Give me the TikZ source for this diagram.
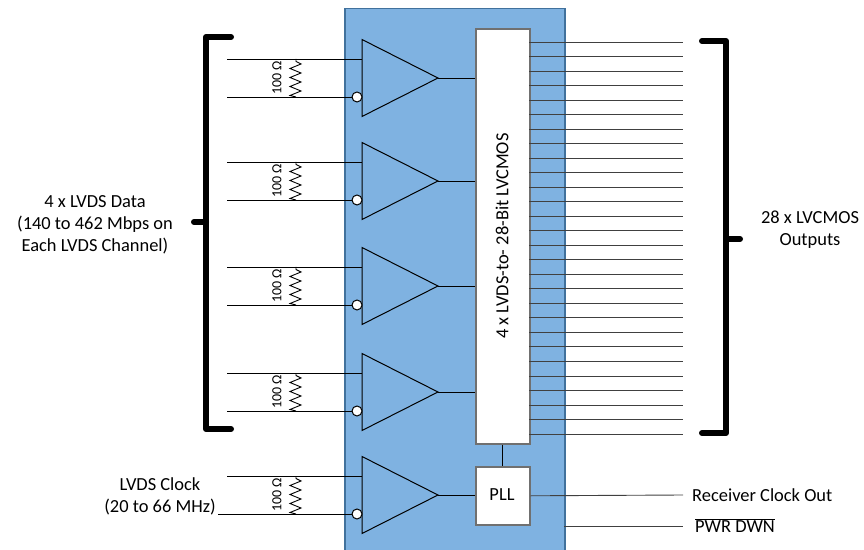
\documentclass[tikz,border=0pt]{standalone}
\usepackage{fontspec}
\setmainfont{Carlito}
\usetikzlibrary{calc}
\definecolor{blk}{HTML}{7FB2E1}
\definecolor{blkedge}{HTML}{41719C}
\definecolor{boxedge}{HTML}{707070}
\tikzset{
  wire/.style={line width=0.9bp, black},
  outwire/.style={line width=0.9bp, black!75},
  chip/.style={draw=blkedge, fill=blk, line width=1.5bp, inner sep=0, minimum width=220bp, minimum height=545bp},
  wbox/.style={draw=boxedge, fill=white, line width=1.6bp, inner sep=0},
  amp/.style={draw=black, fill=blk, line width=1bp, line join=miter},
  bubble/.style={draw=black, fill=white, line width=1bp},
  brace/.style={line width=6bp, line cap=round, line join=round},
  lbl/.style={font=\fontsize{18.5}{22}\selectfont, inner sep=0, align=center},
  rlbl/.style={font=\fontsize{14}{16}\selectfont, inner sep=0, rotate=90},
  res/.style={line width=0.9bp, black, line join=miter}
}
\begin{document}
\begin{tikzpicture}[x=1bp,y=-1bp]
\useasboundingbox (0,0) rectangle (864,550);
% chip body
\node[chip, anchor=north west] (chip) at (344,8) {};
% deserializer and PLL
\node[wbox, anchor=north west, minimum width=54bp, minimum height=415bp] (ser) at (475,28) {};
\node[lbl, rotate=90] (sertxt) at (502,236) {4 x LVDS-to- 28-Bit LVCMOS};
\node[wbox, anchor=north west, minimum width=54bp, minimum height=58bp] (pll) at (475,466) {};
\node[lbl] (plltxt) at (502,495) {PLL};
\draw[wire] (ser.south) -- (pll.north);
% buffers
\foreach \a [count=\i] in {78,181,286,392,495}{
  \coordinate (t\i) at (362,\a-38.5);
  \coordinate (b\i) at (362,\a+38.5);
  \coordinate (o\i) at (438,\a);
  \filldraw[amp] (t\i) -- (o\i) -- (b\i) -- cycle;
  \coordinate (ip\i) at (362,\a-19);
  \node[bubble, circle, minimum size=10bp, inner sep=0] (bub\i) at (357,\a+19) {};
  \coordinate (sp\i) at (227,\a-19);
  \coordinate (rt\i) at (296,\a-19);
  \coordinate (rb\i) at (296,\a+19);
  \draw[wire] (sp\i) -- (ip\i);
  \draw[res] (rt\i) -- ++(0,2.5) -- ++(5,2.5) -- ++(-11,4.5) -- ++(11,4.5) -- ++(-11,4.5) -- ++(11,4.5) -- ++(-11,4.5) -- ++(11,4.5) -- ++(-11,4.5) -- (rb\i);
  \node[rlbl] (rl\i) at (277,\a) {100 Ω};
  \draw[wire] (o\i) -- (o\i -| ser.west);
}
\coordinate (sn1) at (227,97);
\coordinate (sn2) at (227,200);
\coordinate (sn3) at (227,305);
\coordinate (sn4) at (227,411);
\coordinate (sn5) at (218,514);
\foreach \i in {1,...,5}{
  \draw[wire] (sn\i) -- (bub\i.west);
}
% outputs
\foreach \k in {0,...,27}{
  \coordinate (os\k) at (529,{42+\k*14.52});
  \coordinate (oe\k) at (683,{42+\k*14.52});
  \draw[outwire] (os\k) -- (oe\k);
}
\coordinate (clkend) at (683,495);
\draw[outwire] (pll.east) -- (clkend);
\coordinate (pds) at (564,526);
\coordinate (pde) at (683,526);
\draw[outwire] (pds) -- (pde);
\node[lbl, anchor=west] (rco) at (692,495) {Receiver Clock Out};
\node[lbl, anchor=west] (pwd) at (695,526) {$\overline{\mbox{PWR DWN}}$};
% brackets
\coordinate (lb1) at (231,37);
\coordinate (lb2) at (206,37);
\coordinate (lb3) at (206,429);
\coordinate (lb4) at (231,429);
\coordinate (lbm) at (206,222);
\coordinate (lbt) at (194,222);
\draw[brace] (lb1) -- (lb2) -- (lb3) -- (lb4);
\draw[brace] (lbm) -- (lbt);
\coordinate (rb1) at (702,41);
\coordinate (rb2) at (726,41);
\coordinate (rb3) at (726,433);
\coordinate (rb4) at (702,433);
\coordinate (rbm) at (726,239);
\coordinate (rbt) at (740,239);
\draw[brace] (rb1) -- (rb2) -- (rb3) -- (rb4);
\draw[brace] (rbm) -- (rbt);
\node[lbl] (ltxt) at (95,225) {4 x LVDS Data\\(140 to 462 Mbps on\\Each LVDS Channel)};
\node[lbl] (rtxt) at (810,230) {28 x LVCMOS\\Outputs};
\node[lbl] (ctxt) at (160,496) {LVDS Clock\\(20 to 66 MHz)};
\end{tikzpicture}
\end{document}
